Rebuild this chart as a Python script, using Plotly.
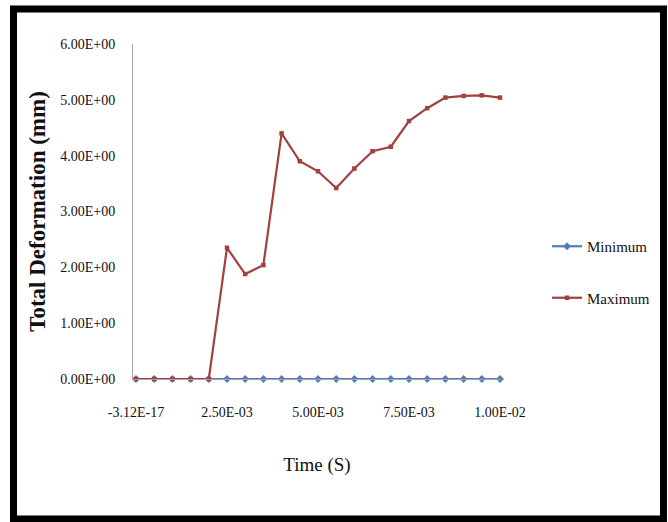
import plotly.graph_objects as go

# ---- data ----
time_s = [-3.12e-17, 5.0e-4, 1.0e-3, 1.5e-3, 2.0e-3, 2.5e-3, 3.0e-3, 3.5e-3,
          4.0e-3, 4.5e-3, 5.0e-3, 5.5e-3, 6.0e-3, 6.5e-3, 7.0e-3, 7.5e-3,
          8.0e-3, 8.5e-3, 9.0e-3, 9.5e-3, 1.0e-2]
minimum = [0.0, 0.0, 0.0, 0.0, 0.0, 0.0, 0.0, 0.0, 0.0, 0.0, 0.0,
           0.0, 0.0, 0.0, 0.0, 0.0, 0.0, 0.0, 0.0, 0.0, 0.0]
maximum = [0.0, 0.0, 0.0, 0.0, 0.0, 2.35, 1.88, 2.04, 4.40, 3.90, 3.72,
           3.42, 3.77, 4.08, 4.16, 4.62, 4.85, 5.04, 5.07, 5.08, 5.04]

x_tick_vals = [-3.12e-17, 2.5e-3, 5.0e-3, 7.5e-3, 1.0e-2]
x_tick_text = ["-3.12E-17", "2.50E-03", "5.00E-03", "7.50E-03", "1.00E-02"]
y_tick_vals = [0, 1, 2, 3, 4, 5, 6]
y_tick_text = ["0.00E+00", "1.00E+00", "2.00E+00", "3.00E+00",
               "4.00E+00", "5.00E+00", "6.00E+00"]

# ---- layout geometry ----
W, H = 668, 522
L, R, T, B = 133, 167, 44, 143
PW, PH = W - L - R, H - T - B

def px_to_paper_x(px):
    return (px - L) / PW

def px_to_paper_y(py):
    return 1 - (py - T) / PH

SERIF = "Liberation Serif, Times New Roman, serif"
BLUE = "#4F7FB5"
RED = "#A2403E"

fig = go.Figure()
fig.add_trace(go.Scatter(
    x=time_s, y=minimum, name="Minimum", mode="lines+markers",
    line=dict(color=BLUE, width=2.2),
    marker=dict(symbol="diamond", size=6, color=BLUE),
    legendgroup="min", cliponaxis=False))
fig.add_trace(go.Scatter(
    x=time_s, y=maximum, name="Maximum", mode="lines+markers",
    line=dict(color=RED, width=2.2),
    marker=dict(symbol="square", size=4.5, color=RED),
    legendgroup="max", cliponaxis=False))

frame = dict(type="rect", xref="paper", yref="paper",
             x0=px_to_paper_x(13.5), x1=px_to_paper_x(663.5),
             y0=px_to_paper_y(519), y1=px_to_paper_y(9),
             line=dict(color="black", width=7), fillcolor="rgba(0,0,0,0)",
             layer="above")

fig.update_layout(
    width=W, height=H, autosize=False,
    margin=dict(l=L, r=R, t=T, b=B),
    paper_bgcolor="white", plot_bgcolor="white",
    font=dict(family=SERIF, color="#111"),
    showlegend=True,
    legend=dict(x=px_to_paper_x(547), y=px_to_paper_y(230),
                xanchor="left", yanchor="top",
                font=dict(family=SERIF, size=15, color="#111"),
                itemwidth=30, tracegroupgap=29,
                bgcolor="rgba(0,0,0,0)"),
    shapes=[frame],
    xaxis=dict(range=[-8.2e-5, 1.0027e-2], tickmode="array",
               tickvals=x_tick_vals, ticktext=x_tick_text,
               showgrid=False, zeroline=False, showline=True,
               linecolor="#A6A6A6", linewidth=1, ticks="",
               tickfont=dict(family=SERIF, size=14, color="#111"),
               ticklabelstandoff=20,
               title=dict(text="Time (S)", standoff=38,
                          font=dict(family=SERIF, size=19, color="#111"))),
    yaxis=dict(range=[0, 6], tickmode="array",
               tickvals=y_tick_vals, ticktext=y_tick_text,
               showgrid=False, zeroline=False, showline=True,
               linecolor="#A6A6A6", linewidth=1, ticks="",
               tickfont=dict(family=SERIF, size=14, color="#111"),
               ticklabelstandoff=14,
               title=dict(text="<b>Total Deformation (mm)</b>", standoff=8,
                          font=dict(family=SERIF, size=23, color="#111"))),
)

fig.write_html("out.html")
